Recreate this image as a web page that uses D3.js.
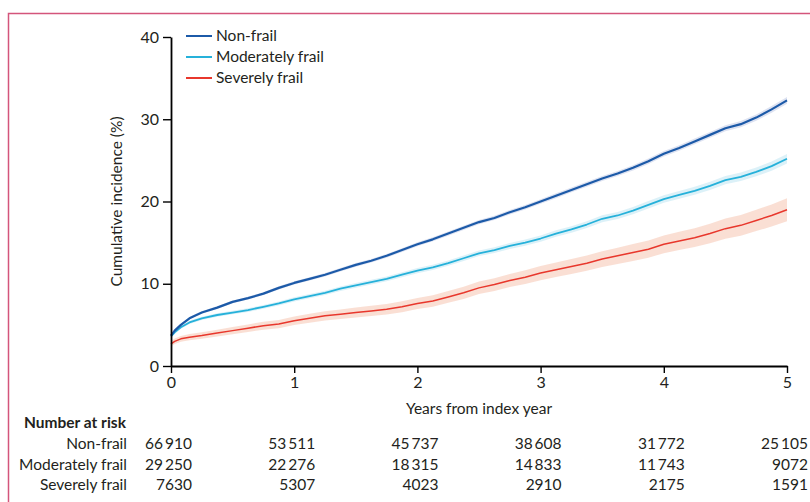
<!DOCTYPE html>
<html>
<head>
<meta charset="utf-8">
<script src="https://cdn.jsdelivr.net/npm/d3@7"></script>
<style>
  html, body { margin: 0; padding: 0; background: #fff; }
  svg { display: block; }
  text { font-family: Lato, "Noto Sans", sans-serif; fill: #231f20; }
</style>
</head>
<body>
<svg id="chart" width="810" height="502"></svg>
<script>
const years = [0, 0.03, 0.08, 0.15, 0.25, 0.375, 0.5, 0.625, 0.75, 0.875,
  1, 1.125, 1.25, 1.375, 1.5, 1.625, 1.75, 1.875,
  2, 2.125, 2.25, 2.375, 2.5, 2.625, 2.75, 2.875,
  3, 3.125, 3.25, 3.375, 3.5, 3.625, 3.75, 3.875,
  4, 4.125, 4.25, 4.375, 4.5, 4.625, 4.75, 4.875, 5];

// Cumulative incidence (%) per group.
const nonFrail = [3.7, 4.3, 5.0, 5.8, 6.5, 7.1, 7.8, 8.25, 8.8, 9.5,
  10.1, 10.6, 11.1, 11.7, 12.3, 12.8, 13.4, 14.1,
  14.8, 15.4, 16.1, 16.8, 17.5, 18.0, 18.7, 19.3,
  20.0, 20.7, 21.4, 22.1, 22.8, 23.4, 24.1, 24.9,
  25.8, 26.5, 27.3, 28.1, 28.9, 29.4, 30.2, 31.2, 32.3];
const moderatelyFrail = [3.6, 4.1, 4.7, 5.3, 5.8, 6.2, 6.5, 6.8, 7.2, 7.6,
  8.1, 8.5, 8.9, 9.4, 9.8, 10.2, 10.6, 11.1,
  11.6, 12.0, 12.5, 13.1, 13.7, 14.1, 14.6, 15.0,
  15.5, 16.1, 16.6, 17.2, 17.9, 18.3, 18.9, 19.6,
  20.3, 20.8, 21.3, 21.9, 22.6, 23.0, 23.6, 24.3, 25.2];
const severelyFrail = [2.7, 3.0, 3.3, 3.5, 3.7, 4.0, 4.3, 4.6, 4.9, 5.1,
  5.5, 5.8, 6.1, 6.3, 6.5, 6.7, 6.9, 7.2,
  7.6, 7.9, 8.4, 8.9, 9.5, 9.9, 10.4, 10.8,
  11.3, 11.7, 12.1, 12.5, 13.0, 13.4, 13.8, 14.2,
  14.8, 15.2, 15.6, 16.1, 16.7, 17.1, 17.7, 18.3, 19.0];

// Half-width of the 95% CI band.
const nonFrailCI = [0.1, 0.12, 0.14, 0.15, 0.15, 0.16, 0.17, 0.18, 0.18, 0.19,
  0.2, 0.2, 0.21, 0.21, 0.22, 0.22, 0.23, 0.23,
  0.24, 0.24, 0.25, 0.25, 0.26, 0.26, 0.27, 0.27,
  0.28, 0.29, 0.29, 0.3, 0.31, 0.31, 0.32, 0.33,
  0.34, 0.34, 0.35, 0.36, 0.37, 0.38, 0.39, 0.4, 0.42];
const moderatelyFrailCI = [0.15, 0.17, 0.18, 0.19, 0.2, 0.21, 0.22, 0.22, 0.23, 0.24,
  0.25, 0.25, 0.26, 0.27, 0.28, 0.28, 0.29, 0.3,
  0.31, 0.32, 0.32, 0.33, 0.34, 0.35, 0.36, 0.37,
  0.38, 0.39, 0.4, 0.41, 0.42, 0.43, 0.44, 0.45,
  0.46, 0.47, 0.48, 0.5, 0.51, 0.52, 0.54, 0.55, 0.57];
const severelyFrailCI = [0.3, 0.33, 0.36, 0.38, 0.4, 0.42, 0.44, 0.46, 0.48, 0.5,
  0.52, 0.54, 0.56, 0.58, 0.6, 0.62, 0.64, 0.66,
  0.68, 0.7, 0.72, 0.74, 0.76, 0.78, 0.8, 0.83,
  0.86, 0.88, 0.9, 0.93, 0.96, 0.99, 1.02, 1.05,
  1.08, 1.11, 1.14, 1.18, 1.22, 1.26, 1.3, 1.35, 1.4];

const groupNames = ['Non-frail', 'Moderately frail', 'Severely frail'];
const xTicks = [0, 1, 2, 3, 4, 5];
const yTicks = [0, 10, 20, 30, 40];

// Number at risk at each x tick.
const riskNonFrail = [66910, 53511, 45737, 38608, 31772, 25105];
const riskModerately = [29250, 22276, 18315, 14833, 11743, 9072];
const riskSeverely = [7630, 5307, 4023, 2910, 2175, 1591];

const groups = [
  {name: groupNames[0], values: nonFrail, ci: nonFrailCI, risk: riskNonFrail,
   line: '#1c5aa8', band: '#d9dff0', width: 2.2},
  {name: groupNames[1], values: moderatelyFrail, ci: moderatelyFrailCI,
   risk: riskModerately, line: '#26b1da', band: '#d8eff7', width: 1.8},
  {name: groupNames[2], values: severelyFrail, ci: severelyFrailCI,
   risk: riskSeverely, line: '#e8372c', band: '#fadccf', width: 1.5},
];

const svg = d3.select('#chart');
const plot = {left: 171, right: 787, top: 37, bottom: 366};

const x = d3.scaleLinear().domain([0, 5]).range([plot.left, plot.right]);
const y = d3.scaleLinear().domain([0, 40]).range([plot.bottom, plot.top]);

// Pink frame along the left and top edges.
svg.append('path')
    .attr('d', 'M8.5,502V13.5H810')
    .attr('fill', 'none')
    .attr('stroke', '#d4557b')
    .attr('stroke-width', 1.5);

// CI bands first, lines on top.
const area = (g) => d3.area()
    .x((d, i) => x(years[i]))
    .y0((d, i) => y(d - g.ci[i]))
    .y1((d, i) => y(d + g.ci[i]));
const line = d3.line().x((d, i) => x(years[i])).y(d => y(d));

const bands = svg.append('g');
groups.slice().reverse().forEach((g) => {
  bands.append('path')
      .attr('d', area(g)(g.values))
      .attr('fill', g.band)
      .attr('fill-opacity', 0.9);
});
const lines = svg.append('g');
groups.slice().reverse().forEach((g) => {
  lines.append('path')
      .attr('d', line(g.values))
      .attr('fill', 'none')
      .attr('stroke', g.line)
      .attr('stroke-width', g.width)
      .attr('stroke-linejoin', 'round');
});

// Axes.
const styleAxis = (sel) => {
  sel.select('.domain').attr('stroke', '#000').attr('stroke-width', 1.8);
  sel.selectAll('.tick line').attr('stroke', '#000').attr('stroke-width', 1.4);
  sel.selectAll('.tick text')
      .attr('font-family', 'Lato, "Noto Sans", sans-serif')
      .attr('font-size', 16)
      .attr('fill', '#231f20');
};

svg.append('g')
    .attr('transform', `translate(0,${plot.bottom})`)
    .call(d3.axisBottom(x).tickValues(xTicks).tickSize(7).tickSizeOuter(0)
        .tickPadding(4).tickFormat(d3.format('d')))
    .call(styleAxis);

svg.append('g')
    .attr('transform', `translate(${plot.left},0)`)
    .call(d3.axisLeft(y).tickValues(yTicks).tickSize(8).tickSizeOuter(0)
        .tickPadding(4).tickFormat(d3.format('d')))
    .call(styleAxis);

svg.append('text')
    .attr('transform', `translate(122,${(plot.top + plot.bottom) / 2}) rotate(-90)`)
    .attr('text-anchor', 'middle')
    .attr('font-size', 15.5)
    .text('Cumulative incidence (%)');

svg.append('text')
    .attr('x', (plot.left + plot.right) / 2)
    .attr('y', 414)
    .attr('text-anchor', 'middle')
    .attr('font-size', 15.5)
    .text('Years from index year');

// Legend.
const legend = svg.append('g').attr('transform', 'translate(186,36)');
groups.forEach((g, i) => {
  const row = legend.append('g').attr('transform', `translate(0,${i * 21})`);
  row.append('line')
      .attr('x1', 0).attr('x2', 26)
      .attr('stroke', g.line)
      .attr('stroke-width', 2);
  row.append('text')
      .attr('x', 30)
      .attr('dy', '0.35em')
      .attr('font-size', 15.5)
      .text(g.name);
});

// Number at risk table.
const fmtRisk = (n) => n >= 10000 ?
    String(n).slice(0, -3) + '\u2009' + String(n).slice(-3) : String(n);

svg.append('text')
    .attr('x', 24)
    .attr('y', 428)
    .attr('font-size', 15.5)
    .attr('font-weight', 'bold')
    .text('Number at risk');

groups.forEach((g, i) => {
  const rowY = 449 + i * 20.5;
  svg.append('text')
      .attr('x', 127)
      .attr('y', rowY)
      .attr('text-anchor', 'end')
      .attr('font-size', 15.5)
      .text(g.name);
  svg.append('g').selectAll('text')
      .data(g.risk)
      .join('text')
      .attr('x', (d, j) => x(xTicks[j]) + 21)
      .attr('y', rowY)
      .attr('text-anchor', 'end')
      .attr('font-size', 15.5)
      .text(d => fmtRisk(d));
});
</script>
</body>
</html>
